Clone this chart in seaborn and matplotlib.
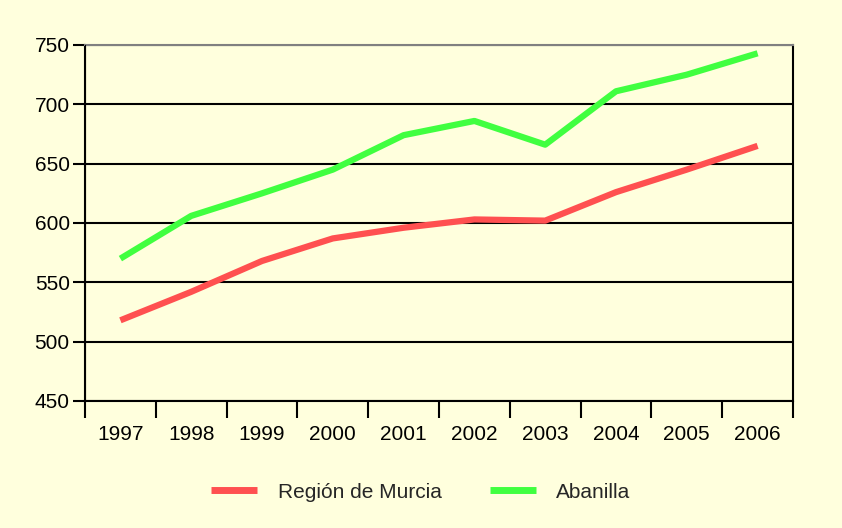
import matplotlib
matplotlib.use("Agg")
import matplotlib.pyplot as plt
import seaborn as sns
import pandas as pd

years = ["1997", "1998", "1999", "2000", "2001", "2002", "2003", "2004", "2005", "2006"]
murcia = [518, 542, 568, 587, 596, 603, 602, 626, 645, 665]
abanilla = [570, 606, 625, 645, 674, 686, 666, 711, 725, 743]
series_names = ["Región de Murcia", "Abanilla"]
colors = ["#FF5050", "#40FF40"]

sns.set_theme(style="white")
plt.rcParams["font.family"] = ["Liberation Sans", "DejaVu Sans"]

bg = "#FFFFDD"
fig = plt.figure(figsize=(8.42, 5.28), dpi=100, facecolor=bg)
ax = fig.add_axes([85/842, 1-401/528, (793-85)/842, (401-45)/528])
ax.set_facecolor(bg)

df = pd.DataFrame({
    "x": list(range(len(years))) * 2,
    "value": murcia + abanilla,
    "series": [series_names[0]] * len(years) + [series_names[1]] * len(years),
})
sns.lineplot(data=df, x="x", y="value", hue="series", palette=colors,
             linewidth=4.5, ax=ax, legend=True, zorder=3)
for ln in ax.get_lines():
    ln.set_solid_capstyle("butt")

ax.set_xlim(-0.5, len(years) - 0.5)
ax.set_ylim(450, 750)
ax.set_yticks(range(450, 751, 50))
ax.yaxis.grid(True, color="black", linewidth=1.5)
ax.set_axisbelow(True)
ax.tick_params(axis="y", which="major", direction="out", length=9, width=1.5,
               color="black", labelsize=15, labelcolor="black", left=True, pad=2)

ax.set_xticks([i - 0.5 for i in range(len(years) + 1)])
ax.set_xticklabels([])
ax.set_xticks(range(len(years)), minor=True)
ax.set_xticklabels(years, minor=True)
ax.tick_params(axis="x", which="major", direction="out", length=12, width=1.5,
               color="black", bottom=True)
ax.tick_params(axis="x", which="minor", length=0, labelsize=15, labelcolor="black", pad=17)

# dotted overlay on the left axis like the reference
ax.axvline(-0.5, color="black", linewidth=1.5, zorder=4)
ax.plot([-0.505] * 2, [450, 750], color="black", linewidth=1.2,
        linestyle=(0, (1, 4)), zorder=4, clip_on=False,
        transform=ax.transData)

ax.set_xlabel("")
ax.set_ylabel("")
for s in ["left", "bottom", "right"]:
    ax.spines[s].set_color("black")
    ax.spines[s].set_linewidth(1.5)
ax.spines["top"].set_color("#808080")
ax.spines["top"].set_linewidth(1.5)

handles, labels = ax.get_legend_handles_labels()
ax.get_legend().remove()
leg = fig.legend(handles[:2], labels[:2], loc="center", bbox_to_anchor=(0.5, 1-492/528),
                 ncol=2, frameon=False, fontsize=15, handlelength=2.2,
                 columnspacing=2.3, handletextpad=1.0)
for h in leg.get_lines():
    h.set_linewidth(5)
    h.set_solid_capstyle("butt")

fig.savefig("out.png", dpi=100, facecolor=bg)
